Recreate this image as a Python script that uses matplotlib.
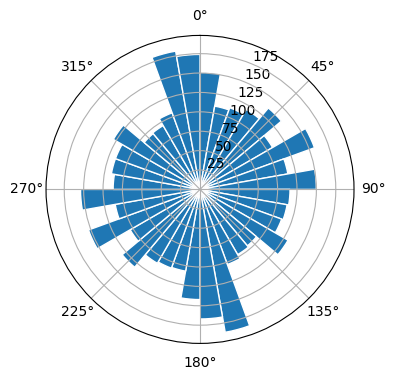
import numpy as np
import matplotlib
matplotlib.use("Agg")
import matplotlib.pyplot as plt

# bin start angles in degrees (10-degree bins), measured clockwise from north
bin_starts_deg = list(range(0, 360, 10))
counts = [151, 109, 112, 119, 137, 108, 157, 115, 150,
          116, 114, 112, 131, 95, 97, 103, 187, 167,
          142, 107, 108, 110, 131, 104, 153, 111, 154,
          112, 116, 116, 129, 94, 95, 105, 181, 174]
bin_width_deg = 10
rticks = [25, 50, 75, 100, 125, 150, 175]

fig = plt.figure(figsize=(3.96, 3.80), dpi=100)
ax = fig.add_axes([0.1162, 0.0963, 0.7778, 0.8105], projection='polar')
ax.set_theta_zero_location('N')
ax.set_theta_direction(-1)

theta = np.deg2rad(bin_starts_deg)
ax.bar(theta, counts, width=np.deg2rad(bin_width_deg), align='edge',
       bottom=0, color='#1f77b4', edgecolor='white', linewidth=1)
ax.set_rticks(rticks)
ax.set_ylim(0, 198.5)
fig.savefig('out.png', dpi=100)
